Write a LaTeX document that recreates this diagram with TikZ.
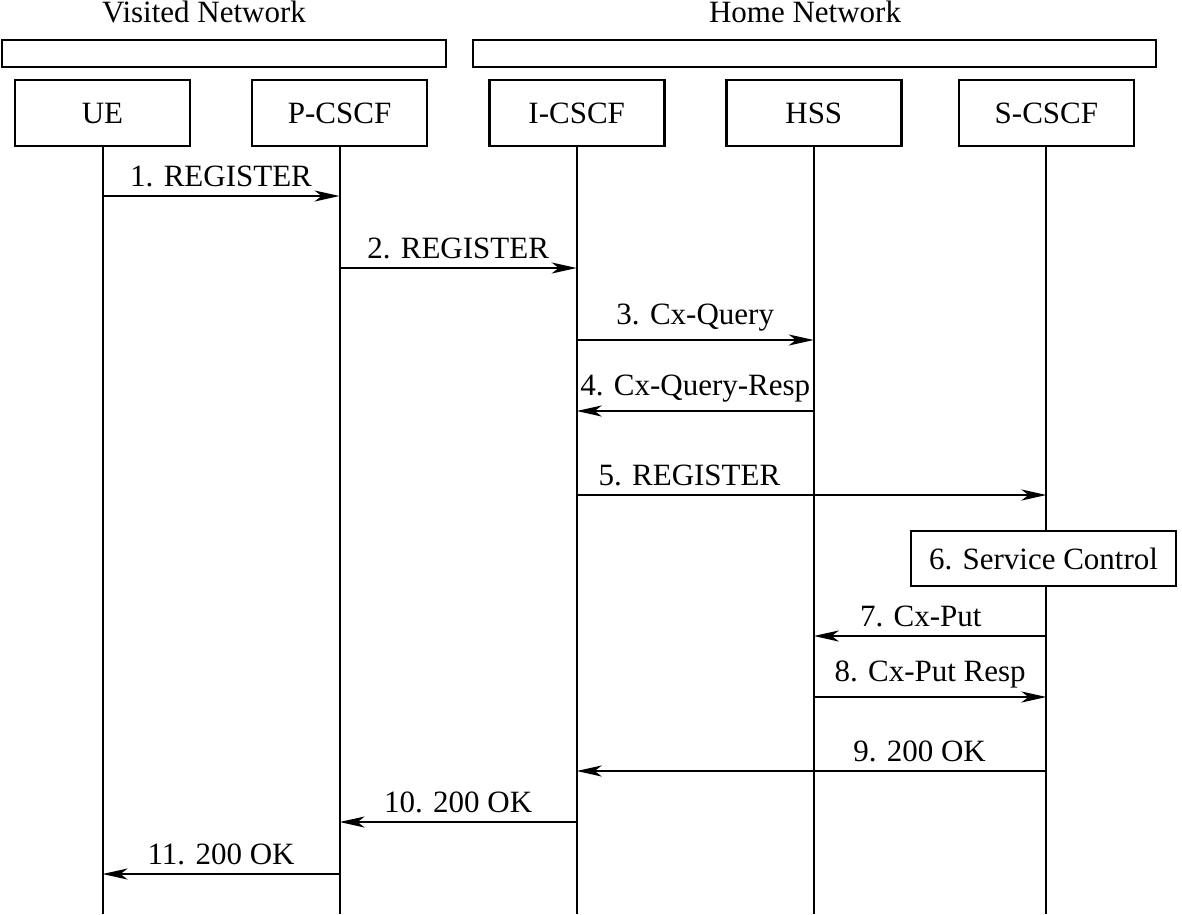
\documentclass[tikz,border=0pt]{standalone}
\usepackage{fontspec}
\setmainfont{Liberation Serif}
\usetikzlibrary{arrows.meta,positioning}
\newcommand{\seqfont}{\fontsize{31}{36}\selectfont}
\tikzset{
 netbar/.style={
 rectangle,
 draw,
 line width=2.6pt,
 minimum height=27pt,
 inner sep=0pt
 },
 entity/.style={
 rectangle,
 draw,
 line width=2.6pt,
 minimum width=175pt,
 minimum height=66pt,
 inner sep=0pt,
 font=\seqfont
 },
 action/.style={
 rectangle,
 draw,
 fill=white,
 line width=2.6pt,
 minimum width=265pt,
 minimum height=55pt,
 inner sep=0pt,
 font=\seqfont
 },
 netlabel/.style={anchor=base, inner sep=0pt, font=\seqfont},
 lifeline/.style={line width=2pt},
 msg/.style={-{Stealth[length=25pt,width=11pt,inset=7pt]}, line width=2.2pt},
 msglabel/.style={above=5pt, inner sep=3pt, font=\seqfont}
}

\begin{document}
\begin{tikzpicture}[x=1pt, y=-1pt, node distance=59.5pt]
 \useasboundingbox (0,0) rectangle (1182,914);
 \coordinate (bottom) at (0,914);

 % network bars
 \node[netbar, minimum width=444pt] (visited) at (224,53.5) {};
 \node[netbar, minimum width=683pt] (home) at (814.5,53.5) {};
 \node[netlabel] (visitedlbl) at (204,22) {Visited Network};
 \node[netlabel] (homelbl) at (805,22) {Home Network};

 % participants
 \node[entity] (ue) at (102.5,113) {UE};
 \node[entity, right=of ue] (pcscf) {P-CSCF};
 \node[entity, right=of pcscf] (icscf) {I-CSCF};
 \node[entity, right=of icscf] (hss) {HSS};
 \node[entity, right=55pt of hss] (scscf) {S-CSCF};

 % lifelines
 \draw[lifeline] (ue.south) -- (ue.south |- bottom);
 \draw[lifeline] (pcscf.south) -- (pcscf.south |- bottom);
 \draw[lifeline] (icscf.south) -- (icscf.south |- bottom);
 \draw[lifeline] (hss.south) -- (hss.south |- bottom);
 \draw[lifeline] (scscf.south) -- (scscf.south |- bottom);

 % messages
 \draw[msg] (ue |- 0,196) -- node[msglabel] {1. REGISTER} (pcscf |- 0,196);
 \draw[msg] (pcscf |- 0,268) -- node[msglabel] {2. REGISTER} (icscf |- 0,268);
 \draw[msg] (icscf |- 0,340) -- node[msglabel] {3. Cx-Query} (hss |- 0,340);
 \draw[msg] (hss |- 0,411) -- node[msglabel] {4. Cx-Query-Resp} (icscf |- 0,411);
 \draw[msg] (icscf |- 0,495) -- node[msglabel, pos=0.24] {5. REGISTER} (scscf |- 0,495);
 \node[action] (svc) at (1043.5,558.5) {6. Service Control};
 \draw[msg] (scscf |- 0,636) -- node[msglabel, pos=0.54] {7. Cx-Put} (hss |- 0,636);
 \draw[msg] (hss |- 0,697) -- node[msglabel] {8. Cx-Put Resp} (scscf |- 0,697);
 \draw[msg] (scscf |- 0,771) -- node[msglabel, pos=0.27] {9. 200 OK} (icscf |- 0,771);
 \draw[msg] (icscf |- 0,822) -- node[msglabel] {10. 200 OK} (pcscf |- 0,822);
 \draw[msg] (pcscf |- 0,874) -- node[msglabel] {11. 200 OK} (ue |- 0,874);
\end{tikzpicture}
\end{document}
